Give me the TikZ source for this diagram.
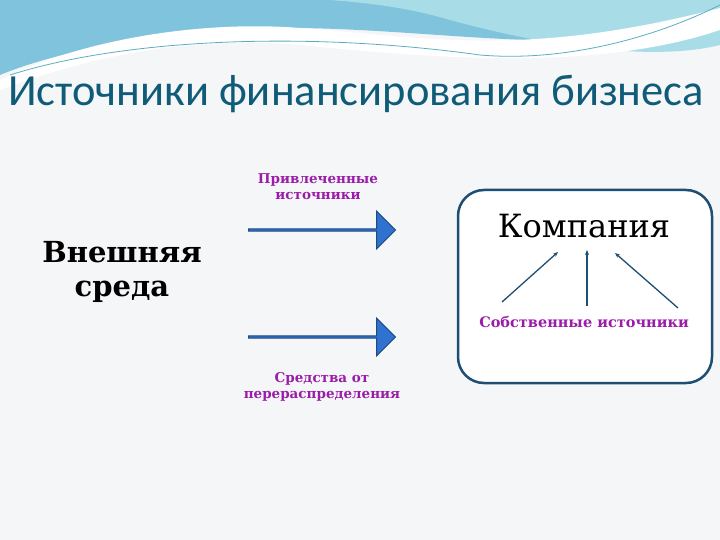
\documentclass[tikz,border=0pt]{standalone}
\usepackage{fontspec}
\setmainfont{DejaVu Serif}
\newfontfamily\titlefont{Carlito}
\usetikzlibrary{shapes.arrows,arrows.meta}
\definecolor{bg}{HTML}{F5F6F8}
\definecolor{wave1}{HTML}{7FC4DC}
\definecolor{wave2}{HTML}{A8DDE8}
\definecolor{titlec}{HTML}{0F5B78}
\definecolor{purp}{HTML}{9A1CA8}
\definecolor{boxc}{HTML}{1E4E72}
\definecolor{arrf}{HTML}{2F72CF}
\definecolor{arrd}{HTML}{1E4A80}
\tikzset{
  lbl/.style={text=purp,font=\bfseries\fontsize{13.5}{16}\selectfont,align=center},
  blk/.style={single arrow,fill=arrf,draw=arrd,line width=1pt,minimum height=147pt,minimum width=38pt,single arrow head extend=8pt,inner sep=0pt,single arrow tip angle=90,shape border rotate=0},
  conn/.style={draw=boxc,line width=1.3pt,-{Stealth[length=5pt,width=4pt]}}
}
\begin{document}
\begin{tikzpicture}[x=1pt,y=-1pt]
\useasboundingbox (0,0) rectangle (720,540);
\fill[bg] (0,0) rectangle (720,540);
% top waves
\fill[wave1] (0,0) -- (720,0) -- (720,20) .. controls (600,60) and (450,30) .. (300,28) .. controls (180,26) and (60,50) .. (0,75) -- cycle;
\fill[wave2] (330,0) -- (720,0) -- (720,45) .. controls (660,60) and (560,50) .. (450,20) .. controls (410,8) and (370,3) .. (330,0) -- cycle;
\fill[white] (0,80) .. controls (80,40) and (200,20) .. (300,28) .. controls (420,36) and (520,60) .. (720,8) -- (720,30) .. controls (600,70) and (450,60) .. (300,45) .. controls (180,35) and (80,60) .. (0,90) -- cycle;
\draw[wave1!70!teal,line width=0.8pt] (10,75) .. controls (120,40) and (300,30) .. (480,55) .. controls (560,62) and (650,40) .. (720,5);
% title
\node[font=\titlefont\fontsize{44.5}{48}\selectfont,text=titlec] (title) at (356,94) {Источники финансирования бизнеса};
% external
\node[font=\bfseries\fontsize{29}{34}\selectfont,align=center] (ext) at (122,272) {Внешняя\\среда};
% block arrows
\node[blk,anchor=west] (a1) at (248,230) {};
\node[blk,anchor=west] (a2) at (248,337) {};
\node[lbl] (l1) at (318,187) {Привлеченные\\источники};
\node[lbl] (l2) at (322,387) {Средства от\\перераспределения};
% company box
\draw[boxc,line width=2.5pt,rounded corners=26pt,fill=white] (458,190) rectangle (712,383);
\node[font=\fontsize{32}{34}\selectfont] (comp) at (584,226) {Компания};
\node[lbl,font=\bfseries\fontsize{14.5}{16}\selectfont] (own) at (584,322) {Собственные источники};
\coordinate (s1) at (502,302); \coordinate (e1) at (558,252);
\coordinate (s2) at (587,306); \coordinate (e2) at (587,250);
\coordinate (s3) at (678,308); \coordinate (e3) at (615,253);
\draw[conn] (s1) -- (e1);
\draw[conn] (s2) -- (e2);
\draw[conn] (s3) -- (e3);
\end{tikzpicture}
\end{document}
